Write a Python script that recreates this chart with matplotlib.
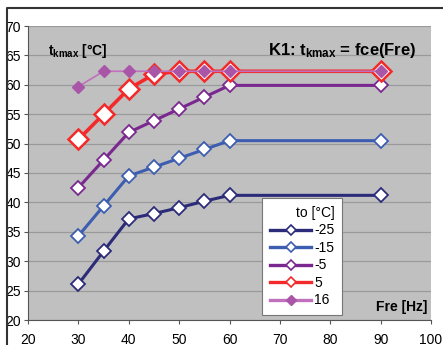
import matplotlib
matplotlib.use("Agg")
import matplotlib.pyplot as plt
from matplotlib.lines import Line2D

plt.rcParams['font.family'] = ['Liberation Sans', 'DejaVu Sans']
plt.rcParams['mathtext.fontset'] = 'custom'
plt.rcParams['mathtext.rm'] = 'Liberation Sans:bold'
plt.rcParams['mathtext.bf'] = 'Liberation Sans:bold'
plt.rcParams['mathtext.it'] = 'Liberation Sans:bold'

fre = [30, 35, 40, 45, 50, 55, 60, 90]
t_m25 = [26.1, 31.7, 37.2, 38.1, 39.1, 40.2, 41.2, 41.2]
t_m15 = [34.3, 39.4, 44.5, 46.0, 47.5, 49.0, 50.5, 50.5]
t_m5 = [42.5, 47.2, 51.9, 53.9, 55.9, 57.9, 59.9, 59.9]
t_5 = [50.7, 55.0, 59.3, 61.8, 62.3, 62.3, 62.3, 62.3]
t_16 = [59.7, 62.3, 62.3, 62.3, 62.3, 62.3, 62.3, 62.3]
labels = ['-25', '-15', '-5', '5', '16']
colors = ['#2b2b7a', '#3c5db0', '#7a2890', '#f42a2a', '#c070bc']

fig = plt.figure(figsize=(4.43, 3.45), dpi=100)
ax = fig.add_axes([28/443, 25/345, 403/443, 294/345])
ax.set_facecolor('#c0c0c0')

# outer frame (left and top)
fig.add_artist(Line2D([7/443, 7/443, 1], [0, 1-8/345, 1-8/345],
                      transform=fig.transFigure, color='#333333', lw=1.5))

ax.plot(fre, t_m25, color=colors[0], lw=2.2, marker='D', ms=7,
        mfc='white', mec=colors[0], mew=1.3)
ax.plot(fre, t_m15, color=colors[1], lw=2.2, marker='D', ms=7,
        mfc='white', mec=colors[1], mew=1.3)
ax.plot(fre, t_m5, color=colors[2], lw=2.2, marker='D', ms=7,
        mfc='white', mec=colors[2], mew=1.3)
ax.plot(fre, t_5, color=colors[3], lw=2.6, marker='D', ms=10,
        mfc='white', mec=colors[3], mew=1.8)
ax.plot(fre, t_16, color=colors[4], lw=1.2, marker='D', ms=6,
        mfc='#a955a8', mec='#a955a8')

ax.set_xlim(20, 100)
ax.set_ylim(20, 70)
ax.set_xticks(range(20, 101, 10))
ax.set_yticks(range(20, 71, 5))
ax.tick_params(labelsize=10, length=3, color='#555555', pad=2)
ax.tick_params(axis='x', pad=6)
ax.grid(axis='y', color='#9a9a9a', lw=0.9)
ax.set_axisbelow(True)
for s in ['top', 'right']:
    ax.spines[s].set_visible(False)
ax.spines['left'].set_color('#555555')
ax.spines['bottom'].set_color('#555555')

ax.text(0.05, 0.915, r'$t_{kmax}$ [°C]', transform=ax.transAxes,
        fontsize=10, fontweight='bold', ha='left', va='center')
ax.text(0.965, 0.915, r'K1: t$_{kmax}$ = fce(Fre)', transform=ax.transAxes,
        fontsize=12, fontweight='bold', ha='right', va='center')
ax.text(0.99, 0.045, 'Fre [Hz]', transform=ax.transAxes, fontsize=10,
        fontweight='bold', ha='right', va='center')

# legend handles with equal marker sizes
handles = []
for i in range(4):
    handles.append(Line2D([], [], color=colors[i], lw=2.4, marker='D', ms=5,
                          mfc='white', mec=colors[i], mew=1.2))
handles.append(Line2D([], [], color=colors[4], lw=2.4, marker='D', ms=5,
                      mfc='#a955a8', mec='#a955a8'))
leg = ax.legend(handles, labels, title='to [°C]', loc='lower left',
                bbox_to_anchor=(0.581, 0.017), fontsize=10, title_fontsize=10,
                frameon=True, fancybox=False, framealpha=1, edgecolor='#777777',
                handlelength=3.0, labelspacing=0.25, borderpad=0.55,
                handletextpad=0.2, borderaxespad=0)
leg._legend_box.align = 'right'
leg.get_frame().set_linewidth(0.8)

fig.savefig('out.png', dpi=100)
